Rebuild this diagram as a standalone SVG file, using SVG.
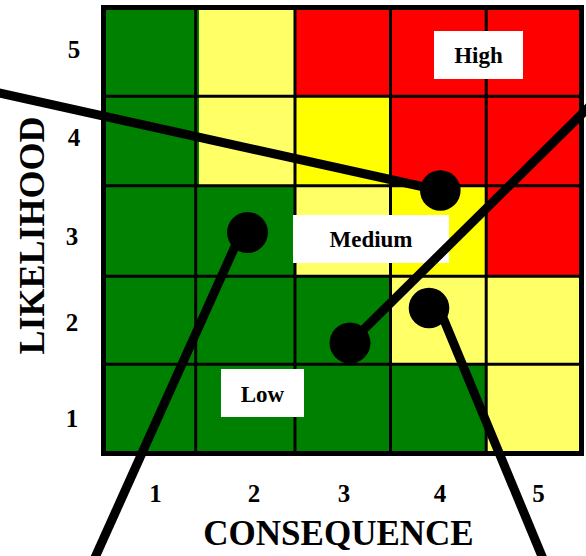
<svg xmlns="http://www.w3.org/2000/svg" width="586" height="556" viewBox="0 0 586 556">
<style>
.g{fill:#008000}.ly{fill:#FFFF66}.y{fill:#FFFF00}.r{fill:#FF0000}
.grid{stroke:#000;stroke-width:3;fill:none}
.t{font-family:"Liberation Serif","Times New Roman",serif;font-weight:bold;fill:#000;text-anchor:middle}
.lbl{font-size:23px}.num{font-size:25px}.ax{font-size:35px}.ay{font-size:36px}
.box{fill:#fff}
.conn{stroke:#000;stroke-width:9;fill:none}
.dot{fill:#000}
</style>
<rect width="586" height="556" fill="#fff"/>
<g id="matrix">
<rect class="g" x="103" y="7" width="479" height="447"/>
<rect class="ly" x="199" y="7" width="96" height="89"/>
<rect class="r" x="295" y="7" width="287" height="89"/>
<rect class="ly" x="199" y="96" width="96" height="90"/>
<rect class="y" x="295" y="96" width="95" height="90"/>
<rect class="r" x="390" y="96" width="192" height="90"/>
<rect class="ly" x="295" y="186" width="95" height="90"/>
<rect class="y" x="390" y="186" width="96" height="90"/>
<rect class="r" x="486" y="186" width="96" height="90"/>
<rect class="ly" x="390" y="276" width="192" height="88"/>
<rect class="ly" x="486" y="364" width="96" height="90"/>
<g class="grid">
<line x1="195.7" y1="7" x2="195.7" y2="454"/>
<line x1="295" y1="7" x2="295" y2="454"/>
<line x1="390.5" y1="7" x2="390.5" y2="454"/>
<line x1="486.2" y1="7" x2="486.2" y2="454"/>
<line x1="103" y1="96.3" x2="582" y2="96.3"/>
<line x1="103" y1="185.8" x2="582" y2="185.8"/>
<line x1="103" y1="276.3" x2="582" y2="276.3"/>
<line x1="103" y1="364.2" x2="582" y2="364.2"/>
</g>
<rect x="103.5" y="7.5" width="478" height="446" fill="none" stroke="#000" stroke-width="5"/>
</g>
<g id="label-high">
<rect class="box" x="434" y="31" width="89" height="48"/>
<text class="t lbl" x="478.5" y="63">High</text>
</g>
<g id="label-medium">
<rect class="box" x="293" y="215" width="156" height="48"/>
<text class="t lbl" x="371" y="247">Medium</text>
</g>
<g id="label-low">
<rect class="box" x="221" y="369" width="83" height="48"/>
<text class="t lbl" x="262.5" y="402">Low</text>
</g>
<g id="x-axis">
<text class="t num" x="155.5" y="502">1</text>
<text class="t num" x="254" y="502">2</text>
<text class="t num" x="344" y="502">3</text>
<text class="t num" x="440" y="502">4</text>
<text class="t num" x="538.5" y="502">5</text>
<text class="t ax" x="338.5" y="545">CONSEQUENCE</text>
</g>
<g id="y-axis">
<text class="t num" x="74" y="58">5</text>
<text class="t num" x="74" y="146">4</text>
<text class="t num" x="72" y="245">3</text>
<text class="t num" x="72" y="331">2</text>
<text class="t num" x="72" y="427">1</text>
<text class="t ay" transform="translate(44,235.5) rotate(-90)" x="0" y="0">LIKELIHOOD</text>
</g>
<g id="connectors">
<line class="conn" x1="-5" y1="92" x2="440" y2="190.5"/>
<line class="conn" x1="241" y1="233" x2="93" y2="562"/>
<line class="conn" x1="350" y1="343" x2="592" y2="104"/>
<line class="conn" x1="439" y1="308" x2="546" y2="566"/>
</g>
<g id="point-a"><circle class="dot" cx="440.3" cy="190.5" r="20.3"/></g>
<g id="point-b"><circle class="dot" cx="247.5" cy="232.5" r="20.5"/></g>
<g id="point-c"><circle class="dot" cx="350" cy="343" r="20.5"/></g>
<g id="point-d"><circle class="dot" cx="429" cy="308" r="20.3"/></g>
</svg>
